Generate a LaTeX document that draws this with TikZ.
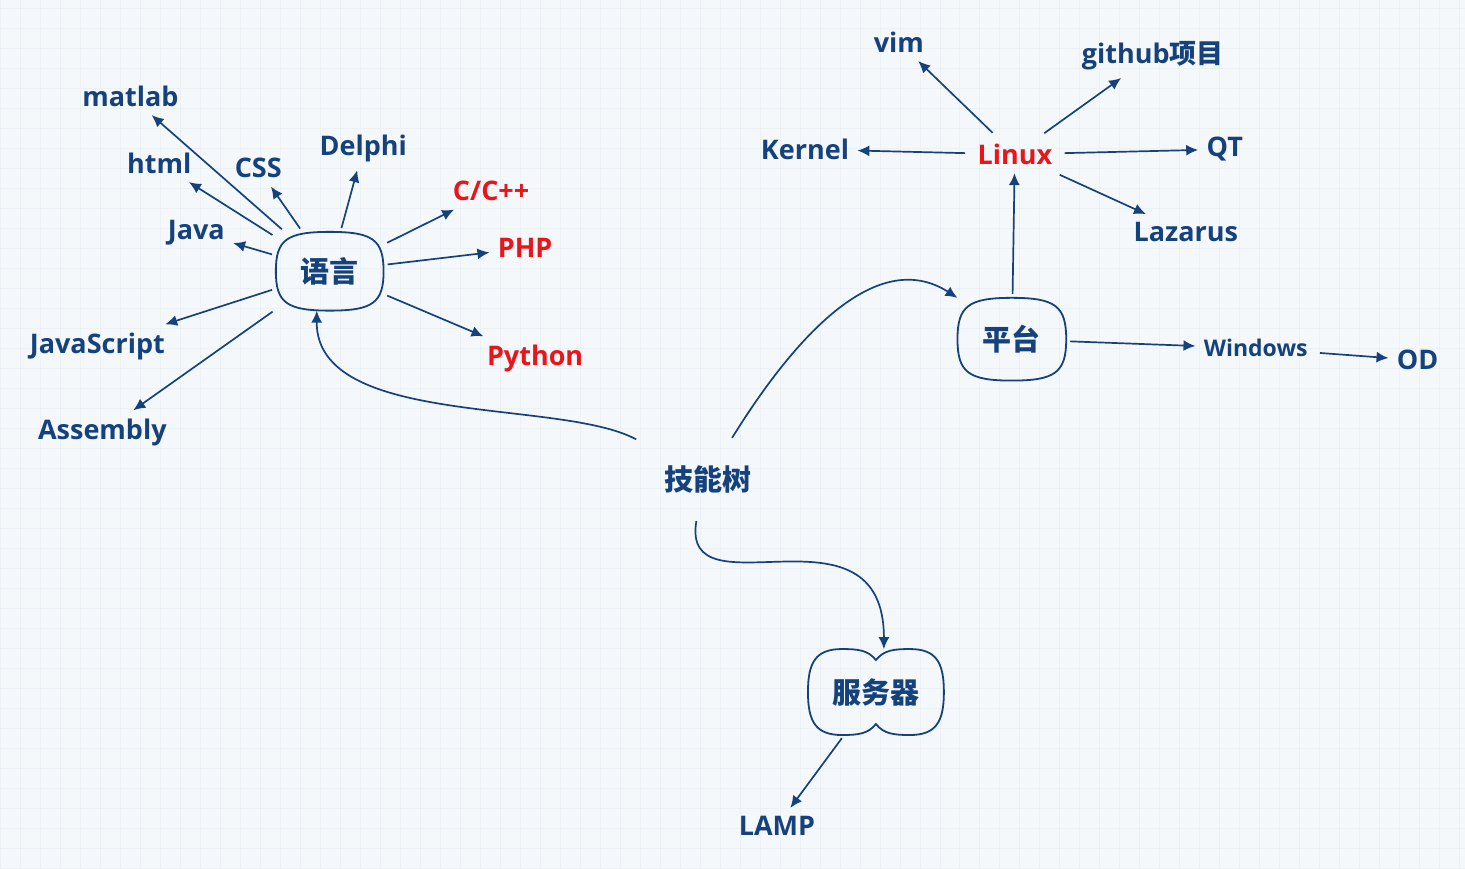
\documentclass[tikz,border=0pt]{standalone}
\usepackage{fontspec}
\setmainfont{Open Sans}
\newfontfamily\cjk{Noto Sans CJK SC}
\usetikzlibrary{arrows.meta, calc}

\definecolor{bluscuro}{HTML}{15427C}
\definecolor{rossovivo}{HTML}{E8151B}
\definecolor{sfondo}{HTML}{F5F8FA}
\definecolor{griglia}{HTML}{EBF1F4}

% contorno "squadrato-arrotondato" attorno a un nodo
\newcommand\contorno[1]{%
  \draw[bordo] (#1.north)
    .. controls ($(#1.north)!0.8!(#1.north east)$) and ($(#1.east)!0.8!(#1.north east)$) .. (#1.east)
    .. controls ($(#1.east)!0.8!(#1.south east)$) and ($(#1.south)!0.8!(#1.south east)$) .. (#1.south)
    .. controls ($(#1.south)!0.8!(#1.south west)$) and ($(#1.west)!0.8!(#1.south west)$) .. (#1.west)
    .. controls ($(#1.west)!0.8!(#1.north west)$) and ($(#1.north)!0.8!(#1.north west)$) .. (#1.north)
    -- cycle;}

\begin{document}
\begin{tikzpicture}[
  x=0.5pt, y=0.5pt,
  voce/.style={font=\bfseries\fontsize{13.5}{16}\selectfont, text=bluscuro,
               inner sep=4pt},
  rosso/.style={voce, text=rossovivo},
  piccolo/.style={voce, font=\bfseries\fontsize{11.5}{14}\selectfont},
  ramo/.style={font=\cjk\bfseries\fontsize{14.5}{17}\selectfont, text=bluscuro,
               inner sep=0pt},
  bordo/.style={draw=bluscuro, line width=0.9pt},
  freccia/.style={draw=bluscuro, line width=0.85pt,
                  -{Latex[length=6pt,width=5.5pt]}, shorten <=2pt}
]

%--------------------------------------------------------------
% Sfondo a quadretti
%--------------------------------------------------------------
\fill[sfondo] (0,0) rectangle (1465,868);
\draw[griglia, line width=0.4pt] (0,0) grid[step=20] (1465,868);
\useasboundingbox (0,0) rectangle (1465,868);

%--------------------------------------------------------------
% Radice e rami principali
%--------------------------------------------------------------
\node[ramo, minimum width=68pt, minimum height=37.5pt] (albero) at (708,389) {技能树};
\node[ramo, minimum width=53.5pt, minimum height=39pt] (lingue) at (329.5,597) {语言};
\node[ramo, minimum width=54pt, minimum height=41pt] (piattaforma) at (1012,529) {平台};
\node[ramo, minimum width=68pt, minimum height=42.5pt] (server) at (876,176) {服务器};

\contorno{lingue}
\contorno{piattaforma}
% il server ha la forma di due lobi accostati
\draw[bordo, shift={(server.center)}] (0,32)
  .. controls (8,42) and (18,43) .. (34,43) .. controls (60,43) and (68,30) .. (68,0)
  .. controls (68,-30) and (60,-43) .. (34,-43) .. controls (18,-43) and (8,-42) .. (0,-32)
  .. controls (-8,-42) and (-18,-43) .. (-34,-43) .. controls (-60,-43) and (-68,-30) .. (-68,0)
  .. controls (-68,30) and (-60,43) .. (-34,43) .. controls (-18,43) and (-8,42) .. (0,32) -- cycle;

\draw[freccia] (albero.north west) .. controls (560,470) and (316,440) .. ([xshift=-6.5pt]lingue.south);
\draw[freccia] ([xshift=11pt]albero.north) .. controls (800,540) and (880,620) .. (piattaforma.north west);
\draw[freccia] ([xshift=-5.5pt]albero.south) .. controls (680,250) and (884,375) .. ([xshift=4pt]server.north);

%--------------------------------------------------------------
% Linguaggi
%--------------------------------------------------------------
\node[voce] (matlab) at (130,772) {matlab};
\node[voce] (html) at (159,705) {html};
\node[voce] (css) at (258,700) {CSS};
\node[voce] (delphi) at (363,720) {Delphi};
\node[rosso] (cpp) at (491,677) {C/C++};
\node[rosso] (php) at (525,620) {PHP};
\node[rosso] (python) at (535,510) {Python};
\node[voce] (java) at (196,636) {Java};
\node[voce] (js) at (97,522) {JavaScript};
\node[voce] (asm) at (102,436) {Assembly};

\foreach \dest in {matlab, html, css, delphi, cpp, php, python, java, js, asm}
  \draw[freccia] (lingue) -- (\dest);

%--------------------------------------------------------------
% Piattaforme
%--------------------------------------------------------------
\node[rosso] (linux) at (1015,714) {Linux};
\node[voce] (vim) at (899,826) {vim};
\node[voce] (github) at (1153,813) {github{\cjk 项目}};
\node[voce] (kernel) at (805,719) {Kernel};
\node[voce] (qt) at (1225,719) {QT};
\node[voce] (lazarus) at (1186,636) {Lazarus};
\node[piccolo] (windows) at (1256,520) {Windows};
\node[voce] (od) at (1418,508) {OD};

\draw[freccia] (piattaforma) -- (linux);
\foreach \dest in {vim, github, kernel, qt, lazarus}
  \draw[freccia] (linux) -- (\dest);
\draw[freccia] (piattaforma) -- (windows);
\draw[freccia] (windows) -- (od);

%--------------------------------------------------------------
% Server
%--------------------------------------------------------------
\node[voce] (lamp) at (777,42) {LAMP};
\draw[freccia] (server) -- (lamp);

\end{tikzpicture}
\end{document}
